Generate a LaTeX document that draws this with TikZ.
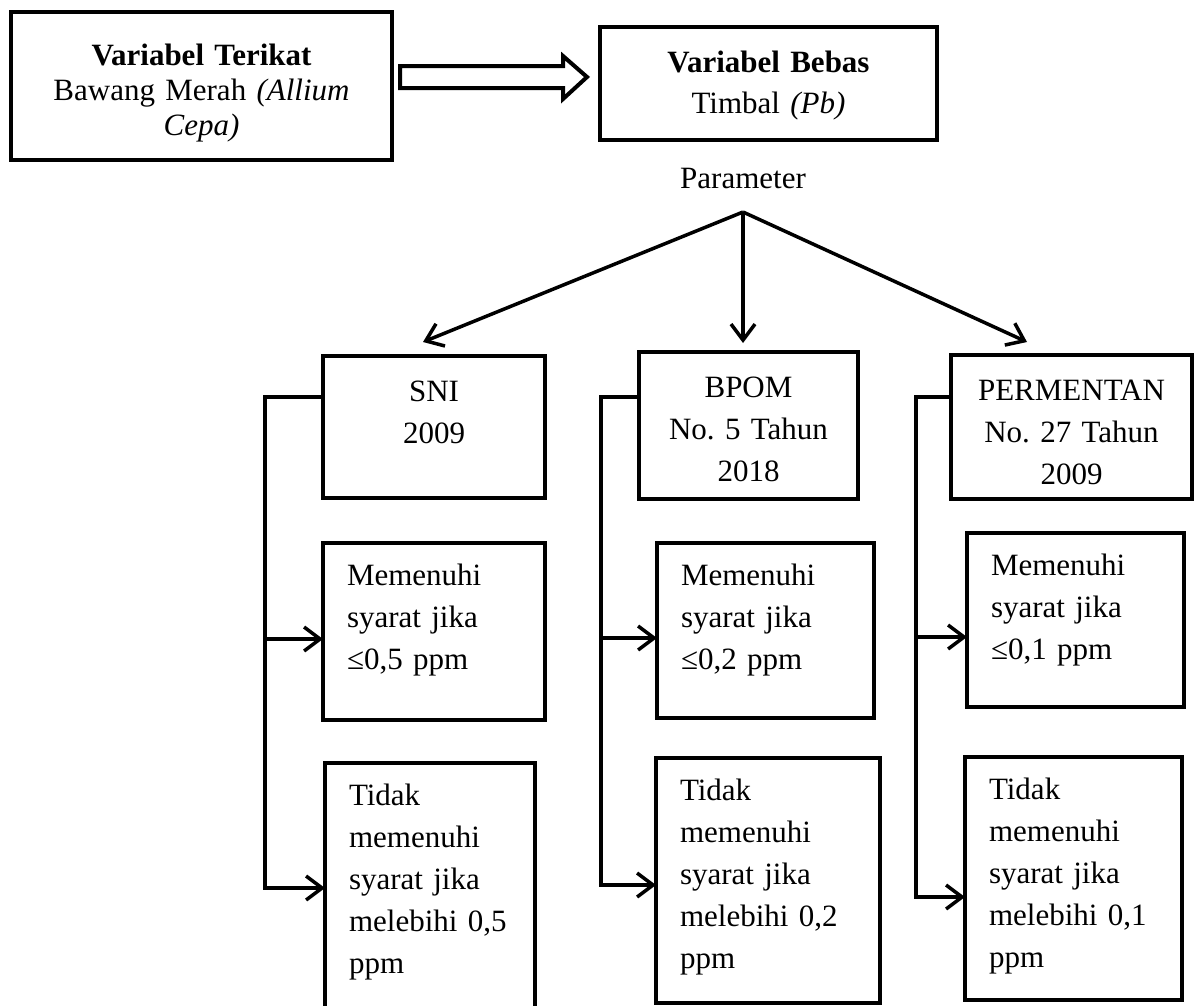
\documentclass[tikz,border=0pt]{standalone}
\usepackage{fontspec}
\setmainfont{Liberation Serif}
\usepackage{tikz}
\usetikzlibrary{arrows.meta}
\frenchspacing

\begin{document}
\begin{tikzpicture}[x=1pt, y=-1pt, font=\fontsize{31}{42}\selectfont]
\tikzstyle{box}=[rectangle, draw, line width=4.5pt, outer sep=0pt, inner ysep=0pt, anchor=north west]
\tikzstyle{head}=[box, inner xsep=6pt, align=center, text height=45pt]
\tikzstyle{res}=[box, inner xsep=24pt, align=left, text height=42pt]
\tikzstyle{conn}=[line width=3.5pt, line join=miter]
\tikzstyle{arr}=[conn, -{Straight Barb[length=16pt, width=24pt]}]
\useasboundingbox (0,0) rectangle (1199,1005);
\clip (0,0) rectangle (1199,1005);

\node[head, text width=369pt, text height=53pt, text depth=95pt, font=\fontsize{31}{35}\selectfont] (terikat) at (11,12) {\textbf{Variabel Terikat}\\Bawang Merah \textit{(Allium}\\\textit{Cepa)}};
\node[head, text width=325pt, text depth=68pt, font=\fontsize{31}{41}\selectfont] (bebas) at (600,27) {\textbf{Variabel Bebas}\\Timbal \textit{(Pb)}};
\node[inner sep=0pt] (param) at (743,178) {Parameter};
\coordinate (apex) at (743,212);

\node[head, text width=210pt, text depth=97pt] (sni) at (323,356) {SNI\\2009};
\node[head, text width=207pt, text depth=102pt] (bpom) at (639,352) {BPOM\\No. 5 Tahun\\2018};
\node[head, text width=229pt, text depth=99pt] (ptan) at (951,355) {PERMENTAN\\No. 27 Tahun\\2009};

\node[res, text width=174pt, text depth=135pt] (ok1) at (323,543) {Memenuhi\\syarat jika\\≤0,5 ppm};
\node[res, text width=169pt, text depth=133pt] (ok2) at (657,543) {Memenuhi\\syarat jika\\≤0,2 ppm};
\node[res, text width=169pt, text depth=132pt] (ok3) at (967,533) {Memenuhi\\syarat jika\\≤0,1 ppm};
\node[res, text width=162pt, text depth=218pt] (no1) at (325,763) {Tidak\\memenuhi\\syarat jika\\melebihi 0,5\\ppm};
\node[res, text width=176pt, text depth=203pt] (no2) at (656,758) {Tidak\\memenuhi\\syarat jika\\melebihi 0,2\\ppm};
\node[res, text width=169pt, text depth=201pt] (no3) at (965,757) {Tidak\\memenuhi\\syarat jika\\melebihi 0,1\\ppm};

\coordinate (ha) at ([xshift=8pt,yshift=9pt]terikat.east);
\coordinate (hb) at ([xshift=-13pt,yshift=6.5pt]bebas.west);
\draw[line width=4pt, line join=miter] ([yshift=11pt]ha) -- ([xshift=-24pt,yshift=11pt]hb) -- ([xshift=-24pt,yshift=21pt]hb) -- (hb) -- ([xshift=-24pt,yshift=-22pt]hb) -- ([xshift=-24pt,yshift=-11pt]hb) -- ([yshift=-11pt]ha) -- cycle;

\draw[arr] (apex) -- ([shift={(-11,-14)}]sni.north);
\draw[arr] (apex) -- ([shift={(-5.5,-9)}]bpom.north);
\draw[arr] (apex) -- ([shift={(-44.5,-13)}]ptan.north);

\coordinate (s1) at (265,397);
\coordinate (s2) at (265,639);
\coordinate (s3) at (265,888);
\draw[arr] (s1 -| sni.west) -- (s1) -- (s3) -- (s3 -| no1.west);
\draw[arr] (s2) -- (s2 -| ok1.west);

\coordinate (b1) at (601,397);
\coordinate (b2) at (601,638);
\coordinate (b3) at (601,885);
\draw[arr] (b1 -| bpom.west) -- (b1) -- (b3) -- (b3 -| no2.west);
\draw[arr] (b2) -- (b2 -| ok2.west);

\coordinate (p1) at (916,397);
\coordinate (p2) at (916,637);
\coordinate (p3) at (916,897);
\draw[arr] (p1 -| ptan.west) -- (p1) -- (p3) -- (p3 -| no3.west);
\draw[arr] (p2) -- (p2 -| ok3.west);
\end{tikzpicture}
\end{document}
